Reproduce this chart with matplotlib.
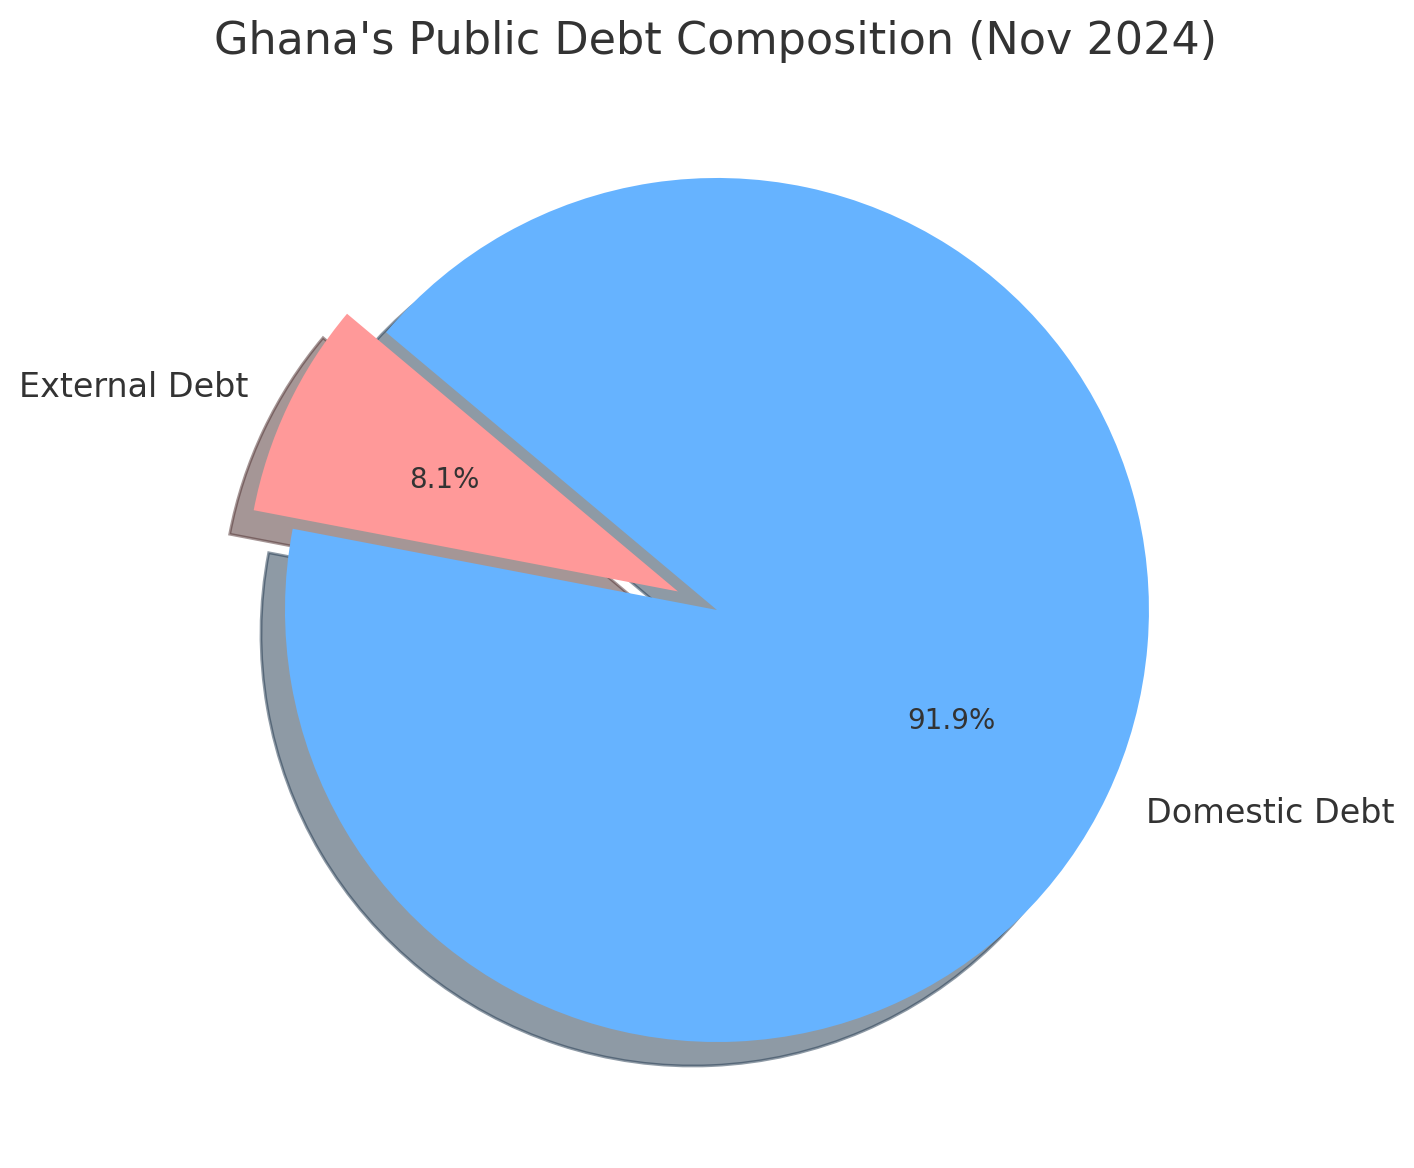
import matplotlib.pyplot as plt

labels = ['External Debt', 'Domestic Debt']
shares = [8.1, 91.9]
colors = ['#ff9999', '#66b3ff']
explode = [0.1, 0]

plt.rcParams['text.color'] = '#333333'

fig = plt.figure(figsize=(7.07, 5.84), dpi=200)
ax = fig.add_axes([0.0488, 0.0154, 0.9165, 0.9247])
ax.pie(shares, labels=labels, colors=colors, explode=explode, startangle=140,
       autopct='%1.1f%%', shadow=True, textprops={'fontsize': 12})
for t in ax.texts:
    if t.get_text().endswith('%'):
        t.set_fontsize(10)
ax.set_aspect('auto')
ax.set_xlim(-1.5, 1.5)
ax.set_ylim(-1.25, 1.25)
fig.text(0.506, 0.9641, "Ghana's Public Debt Composition (Nov 2024)", fontsize=16,
         ha='center', va='center')
plt.savefig('out.png')
